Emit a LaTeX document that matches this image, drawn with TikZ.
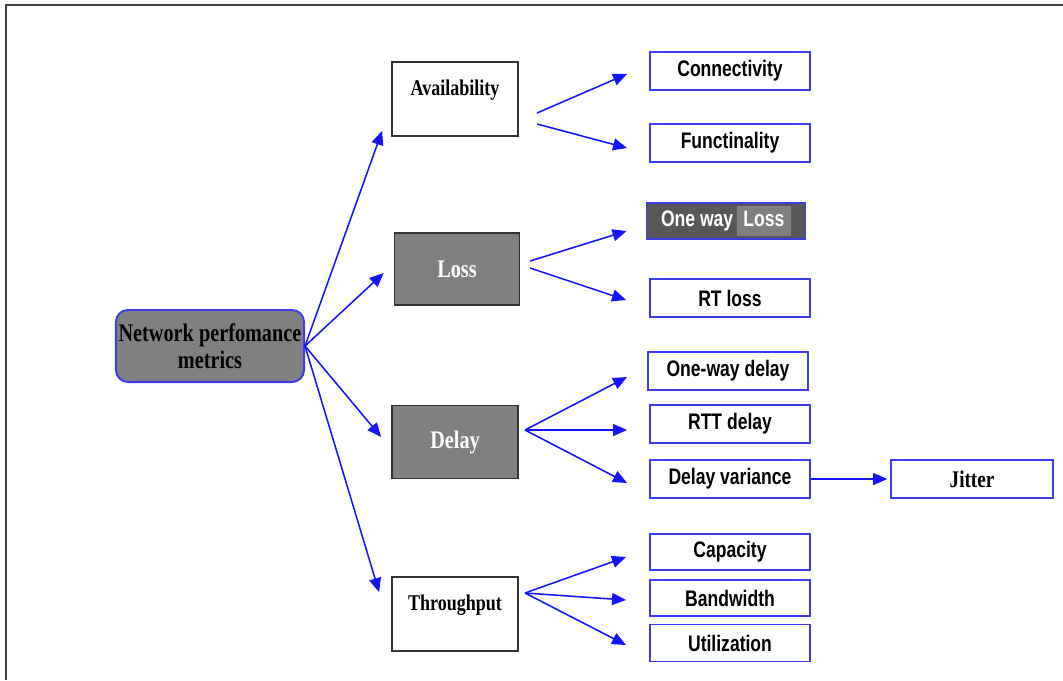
\documentclass[tikz,border=0pt]{standalone}
\usepackage{fontspec}
\newfontfamily\serifnarrow[FakeStretch=0.8]{Liberation Serif}
\newfontfamily\sansnarrow[FakeStretch=0.78]{Liberation Sans}
\usetikzlibrary{arrows.meta}
\definecolor{linkblue}{RGB}{20,20,255}
\definecolor{edgeblue}{RGB}{60,60,235}
\definecolor{midgray}{RGB}{128,128,128}
\definecolor{shadegray}{RGB}{88,88,88}
\tikzstyle{link}=[-{Triangle[length=10pt,width=8.5pt]},draw=linkblue,line width=1.1pt]
\tikzstyle{frame}=[draw=black!75,line width=1.4pt]
\tikzstyle{metric}=[rectangle,draw=black!80,line width=1.2pt,minimum width=3.15cm,font=\serifnarrow\bfseries\fontsize{16}{18}\selectfont]
\tikzstyle{topmetric}=[metric,fill=white,inner ysep=0pt,text height=0.825cm,text depth=1.025cm]
\tikzstyle{greymetric}=[metric,fill=midgray,text=white,minimum height=1.8cm,font=\serifnarrow\bfseries\fontsize{18}{20}\selectfont]
\tikzstyle{leaf}=[rectangle,draw=edgeblue,line width=1.3pt,fill=white,minimum width=4cm,minimum height=0.95cm,inner sep=1pt,font=\sansnarrow\bfseries\fontsize{16}{18}\selectfont]
\tikzstyle{rootbox}=[rectangle,rounded corners=8.5pt,draw=edgeblue,line width=1.4pt,fill=midgray,minimum width=4.7cm,minimum height=1.8cm,inner xsep=0pt,align=center,font=\serifnarrow\bfseries\fontsize{18}{19}\selectfont]

\begin{document}
\begin{tikzpicture}[x=0.025cm,y=-0.025cm]
  \useasboundingbox (0,0) rectangle (1063,680);
  \draw [frame] (6,680) -- (6,5) -- (1063,5);

  % root and the four metrics
  \node (root) at (210,346) [rootbox] {Network perfomance\\metrics};
  \node (avail) at (455,99) [topmetric] {Availability};
  \node (loss) at (457,269) [greymetric,minimum width=3.125cm] {Loss};
  \node (delay) at (455,442) [greymetric,minimum height=1.825cm] {Delay};
  \node (thru) at (455,614) [topmetric] {Throughput};

  % second level
  \node (conn) at (730,71) [leaf] {Connectivity};
  \node (func) at (730,143) [leaf] {Functinality};
  \node (oneloss) at (726,221) [leaf,fill=shadegray,text=white,minimum width=3.975cm,minimum height=0.9cm,inner sep=0pt]
    {One way\,\setlength{\fboxsep}{2pt}\colorbox{midgray}{\strut\,Loss\,}};
  \node (rtloss) at (730,298) [leaf] {RT loss};
  \node (owdelay) at (728,371) [leaf] {One-way delay};
  \node (rttdelay) at (730,424) [leaf] {RTT delay};
  \node (dvar) at (730,479) [leaf] {Delay variance};
  \node (jitter) at (972,479) [leaf,minimum width=4.05cm,font=\serifnarrow\bfseries\fontsize{17}{19}\selectfont] {Jitter};
  \node (cap) at (730,552) [leaf,minimum height=0.9cm] {Capacity};
  \node (band) at (730,598) [leaf,minimum height=0.9cm] {Bandwidth};
  \node (util) at (730,643) [leaf,minimum height=0.925cm] {Utilization};

  % fan points
  \coordinate (av-a) at (537,113);
  \coordinate (av-b) at (537,124);
  \coordinate (lo-a) at (530,261);
  \coordinate (lo-b) at (530,268);
  \coordinate (de-fan) at (525,430);
  \coordinate (th-fan) at (525,593);

  \draw [link] (root.east) -- ([shift={(-9,-6)}]avail.south west);
  \draw [link] (root.east) -- ([shift={(-10,4)}]loss.west);
  \draw [link] (root.east) -- ([shift={(-10,-5)}]delay.west);
  \draw [link] (root.east) -- ([shift={(-12,16)}]thru.north west);

  \draw [link] (av-a) -- ([shift={(-22,3)}]conn.west);
  \draw [link] (av-b) -- ([shift={(-22,5)}]func.west);
  \draw [link] (lo-a) -- ([shift={(-19,10)}]oneloss.west);
  \draw [link] (lo-b) -- ([shift={(-23,2)}]rtloss.west);
  \draw [link] (de-fan) -- ([shift={(-20,6)}]owdelay.west);
  \draw [link] (de-fan) -- ([shift={(-22,6)}]rttdelay.west);
  \draw [link] (de-fan) -- ([shift={(-22,4)}]dvar.west);
  \draw [link] (dvar.east) -- ([xshift=-2pt]jitter.west);
  \draw [link] (th-fan) -- ([shift={(-23,5)}]cap.west);
  \draw [link] (th-fan) -- ([shift={(-23,2)}]band.west);
  \draw [link] (th-fan) -- ([shift={(-23,2)}]util.west);
\end{tikzpicture}
\end{document}
